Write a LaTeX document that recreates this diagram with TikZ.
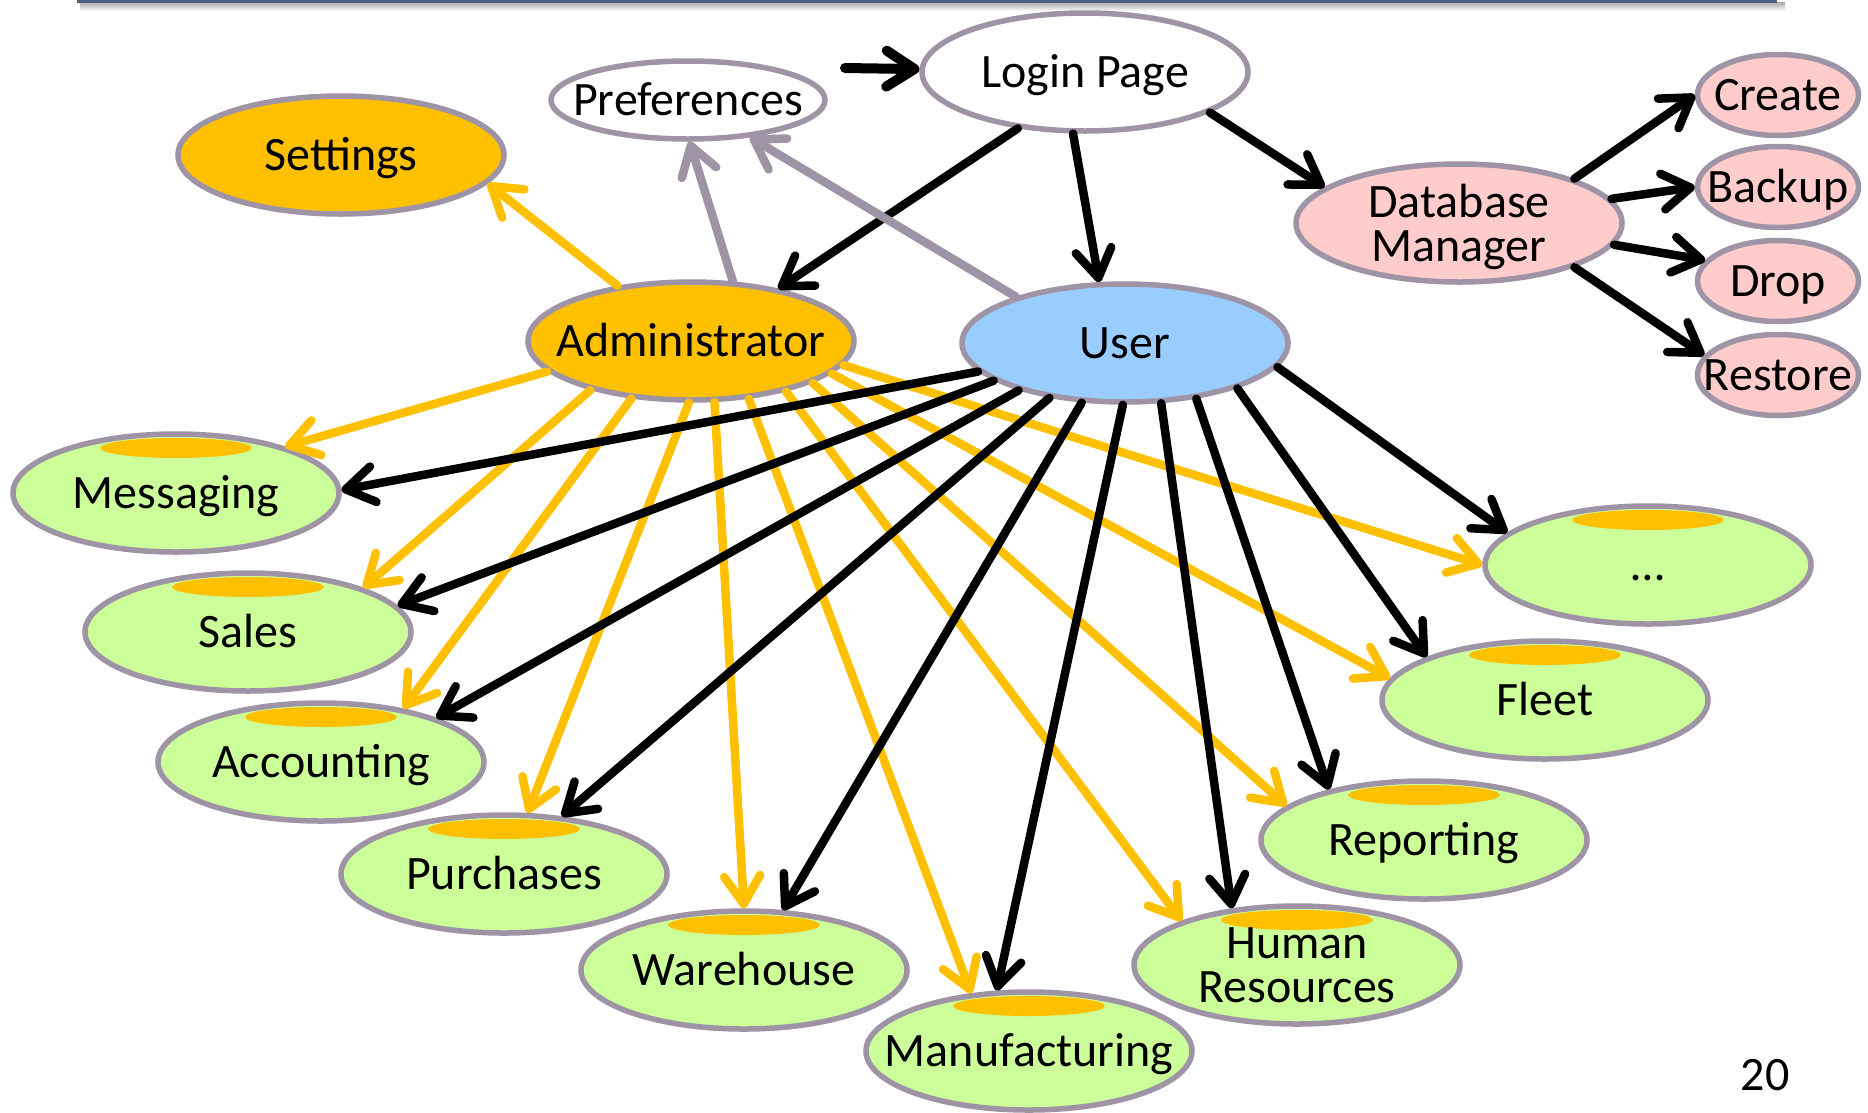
\documentclass[tikz,border=0pt]{standalone}
\usepackage{fontspec}
\setmainfont{Carlito}
\usetikzlibrary{shapes.geometric,arrows.meta}
\pgfdeclarelayer{background}
\pgfsetlayers{background,main}
\definecolor{orgc}{HTML}{FFC000}
\definecolor{greenc}{HTML}{CCFF99}
\definecolor{pinkc}{HTML}{FFCCCC}
\definecolor{bluec}{HTML}{99CCFF}
\definecolor{bordc}{HTML}{9F93A6}
\definecolor{barc}{HTML}{4A6282}
\newcommand\bigfs{\fontsize{48pt}{44pt}\selectfont}
\tikzset{
  bub/.style={ellipse, draw=bordc, line width=5.5pt, inner xsep=-80pt, inner ysep=0pt,
    minimum width=326pt, minimum height=118pt, font=\bigfs, text height=30pt, text depth=0pt},
  twoline/.style={align=center, text height={}, text depth=-2pt},
  modnode/.style={bub, fill=greenc,
    path picture={\fill[orgc] ([yshift=45pt]path picture bounding box.center) ellipse [x radius=76pt, y radius=10pt];}},
  smallnode/.style={bub, fill=pinkc, minimum width=161pt, minimum height=81pt},
  prefnode/.style={bub, fill=white, minimum width=274pt, minimum height=78pt},
  arr/.style={line width=8.5pt, line cap=round, -{Straight Barb[length=28pt,width=36pt,round]}},
  blk/.style={arr, draw=black},
  org/.style={arr, draw=orgc},
  gry/.style={arr, draw=bordc},
  shad/.style={draw=black!10, transform canvas={shift={(1pt,-4pt)}}},
}
\newcommand\edgeset[1]{%
  \draw[blk,line width=10pt,#1] (start) -- (login.179);
  \draw[blk,#1] (login.220) -- (admin.31);
  \draw[blk,#1] (login.259) -- (user.113);
  \draw[blk,#1] (login.342) -- (dbm.165);
  \draw[blk,#1] (dbm.21) -- (create.180);
  \draw[blk,#1] (dbm.9) -- (backup.180);
  \draw[blk,#1] (dbm.352) -- (drop.164);
  \draw[blk,#1] (dbm.339) -- (restore.165);
  \draw[gry,#1] (admin.55) -- (pref.272);
  \draw[gry,#1] (user.157) -- (pref.329);
  \draw[org,#1] (admin.143) -- (settings.349);
  \draw[org,#1] (admin.192) -- (msg.23);
  \draw[org,#1] (admin.206) -- (sales.21);
  \draw[org,#1] (admin.224) -- (acct.33);
  \draw[org,#1] (admin.268) -- (purch.69);
  \draw[org,#1] (admin.291) -- (ware.90);
  \draw[org,#1] (admin.315) -- (manu.135);
  \draw[org,#1] (admin.332) -- (hr.159);
  \draw[org,#1] (admin.341) -- (rep.166);
  \draw[org,#1] (admin.347) -- (fleet.172);
  \draw[org,#1] (admin.351) -- (etc.180);
  \draw[blk,#1] (user.191) -- (msg.1);
  \draw[blk,#1] (user.196) -- (sales.10);
  \draw[blk,#1] (user.204) -- (acct.21);
  \draw[blk,#1] (user.216) -- (purch.45);
  \draw[blk,#1] (user.234) -- (ware.57);
  \draw[blk,#1] (user.268) -- (manu.118);
  \draw[blk,#1] (user.301) -- (hr.139);
  \draw[blk,#1] (user.322) -- (rep.152);
  \draw[blk,#1] (user.338) -- (fleet.160);
  \draw[blk,#1] (user.351) -- (etc.167);
}
\begin{document}
\begin{tikzpicture}[x=1pt,y=-1pt]
\useasboundingbox (0,0) rectangle (1868,1112);
\fill[white] (0,0) rectangle (1868,1112);
% top bar with shadow
\shade[top color=black!35, bottom color=white] (80,2) rectangle (1785,11);
\draw[barc, line width=3pt] (77,1.5) -- (1777,1.5);

% nodes
\node[bub, fill=white] (login) at (1085,72) {Login Page};
\node[prefnode] (pref) at (688,100) {Preferences};
\node[bub, fill=orgc] (settings) at (341,155) {Settings};
\node[bub, fill=orgc] (admin) at (691,341) {Administrator};
\node[bub, fill=bluec] (user) at (1125,343) {User};
\node[bub, fill=pinkc, twoline] (dbm) at (1459,223) {Database\\Manager};
\node[smallnode] (create) at (1778,95) {Create};
\node[smallnode] (backup) at (1778,187) {Backup};
\node[smallnode] (drop) at (1778,281) {Drop};
\node[smallnode] (restore) at (1778,375) {Restore};
\node[modnode] (msg) at (176,493) {Messaging};
\node[modnode] (sales) at (248,632) {Sales};
\node[modnode] (acct) at (321,762) {Accounting};
\node[modnode] (purch) at (504,874) {Purchases};
\node[modnode] (ware) at (744,970) {Warehouse};
\node[modnode] (manu) at (1029,1051) {Manufacturing};
\node[modnode, twoline] (hr) at (1297,965) {Human\\Resources};
\node[modnode] (rep) at (1424,840) {Reporting};
\node[modnode] (fleet) at (1545,700) {Fleet};
\node[modnode] (etc) at (1648,565) {…};
\node[font=\bigfs, text height=30pt, text depth=0pt, inner sep=0pt] (pnum) at (1765,1075) {20};
\coordinate (start) at (845,68);

% connectors
\begin{pgfonlayer}{background}
\edgeset{shad}
\end{pgfonlayer}
\edgeset{}
\end{tikzpicture}
\end{document}
